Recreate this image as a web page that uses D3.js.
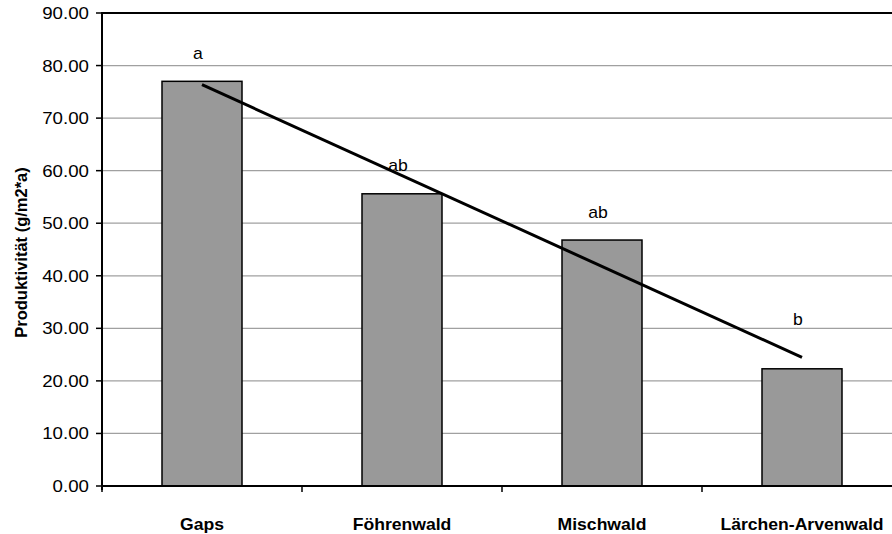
<!DOCTYPE html>
<html>
<head>
<meta charset="utf-8">
<script src="https://cdn.jsdelivr.net/npm/d3@7"></script>
<style>
  body { margin: 0; background: #fff; }
  text { font-family: Arial, "Liberation Sans", sans-serif; fill: #000; }
</style>
</head>
<body>
<svg id="chart" width="892" height="534"></svg>
<script>
// values
const categories = ['Gaps', 'Föhrenwald', 'Mischwald', 'Lärchen-Arvenwald'];
const productivity = [77.0, 55.6, 46.8, 22.3];
const letters = ['a', 'ab', 'ab', 'b'];
const letterLevels = [81.2, 60.0, 51.0, 30.6];
const yTicks = [0, 10, 20, 30, 40, 50, 60, 70, 80, 90];

const svg = d3.select('#chart');
const plotLeft = 102, plotRight = 902, plotTop = 13, plotBottom = 486;
const stretch = 1.1;

const x = d3.scaleBand().domain(categories).range([plotLeft, plotRight]).paddingInner(0.6).paddingOuter(0.3);
const xBand = d3.scaleBand().domain(categories).range([plotLeft, plotRight]);
const y = d3.scaleLinear().domain([0, 90]).range([plotBottom, plotTop]);

// gridlines
svg.append('g').selectAll('line.grid').data(yTicks.filter(d => d > 0 && d < 90)).enter()
  .append('line').attr('class', 'grid')
    .attr('x1', plotLeft).attr('x2', 892)
    .attr('y1', d => y(d)).attr('y2', d => y(d))
    .style('stroke', '#a0a0a0').style('stroke-width', 1.2);

// top border
svg.append('line').attr('x1', plotLeft).attr('x2', 892).attr('y1', y(90)).attr('y2', y(90))
  .style('stroke', '#000').style('stroke-width', 2);

// bars
svg.append('g').selectAll('rect.bar').data(productivity).enter()
  .append('rect').attr('class', 'bar')
    .attr('x', (d, i) => x(categories[i]))
    .attr('y', d => y(d))
    .attr('width', x.bandwidth())
    .attr('height', d => y(0) - y(d))
    .style('fill', '#999999').style('stroke', '#000').style('stroke-width', 1.5);

// linear trend through the bar centres
const n = productivity.length;
const xs = d3.range(n);
const mx = d3.mean(xs), my = d3.mean(productivity);
const slope = d3.sum(xs, i => (i - mx) * (productivity[i] - my)) / d3.sum(xs, i => (i - mx) * (i - mx));
const icpt = my - slope * mx;
const cx = i => xBand(categories[i]) + xBand.bandwidth() / 2;
svg.append('path')
  .datum([0, n - 1])
  .attr('d', d3.line().x(i => cx(i)).y(i => y(icpt + slope * i)))
  .style('fill', 'none').style('stroke', '#000').style('stroke-width', 3);

// significance letters
svg.append('g').selectAll('text.letter').data(letters).enter()
  .append('text').attr('class', 'letter')
    .attr('transform', (d, i) => 'translate(' + (cx(i) - 4) + ',' + y(letterLevels[i]) + ') scale(' + stretch + ',1)')
    .attr('text-anchor', 'middle').style('font-size', '16px')
    .text(d => d);

// y axis
const yAxis = svg.append('g');
yAxis.append('line').attr('x1', plotLeft).attr('x2', plotLeft).attr('y1', plotTop - 1).attr('y2', plotBottom + 4)
  .style('stroke', '#000').style('stroke-width', 2);
yAxis.selectAll('line.ytick').data(yTicks).enter().append('line').attr('class', 'ytick')
  .attr('x1', plotLeft - 6).attr('x2', plotLeft).attr('y1', d => y(d)).attr('y2', d => y(d))
  .style('stroke', '#000').style('stroke-width', 1.5);
yAxis.selectAll('text.ylab').data(yTicks).enter().append('text').attr('class', 'ylab')
  .attr('transform', d => 'translate(' + (plotLeft - 13) + ',' + (y(d) + 6) + ') scale(' + stretch + ',1)')
  .attr('text-anchor', 'end').style('font-size', '17px')
  .text(d => d3.format('.2f')(d));

// x axis
const xAxis = svg.append('g');
xAxis.append('line').attr('x1', plotLeft - 1).attr('x2', 892).attr('y1', plotBottom).attr('y2', plotBottom)
  .style('stroke', '#000').style('stroke-width', 2);
xAxis.selectAll('line.xtick').data(categories).enter().append('line').attr('class', 'xtick')
  .attr('x1', d => xBand(d)).attr('x2', d => xBand(d))
  .attr('y1', plotBottom).attr('y2', plotBottom + 6)
  .style('stroke', '#000').style('stroke-width', 1.5);
xAxis.selectAll('text.xlab').data(categories).enter().append('text').attr('class', 'xlab')
  .attr('transform', d => 'translate(' + (xBand(d) + xBand.bandwidth() / 2) + ',530) scale(' + stretch + ',1)')
  .attr('text-anchor', 'middle').style('font-size', '16px').style('font-weight', 'bold')
  .text(d => d);

// y title
svg.append('text')
  .attr('transform', 'translate(27,' + ((plotTop + plotBottom) / 2 + 3) + ') rotate(-90)')
  .attr('text-anchor', 'middle').style('font-size', '16.5px').style('font-weight', 'bold')
  .text('Produktivität (g/m2*a)');
</script>
</body>
</html>
